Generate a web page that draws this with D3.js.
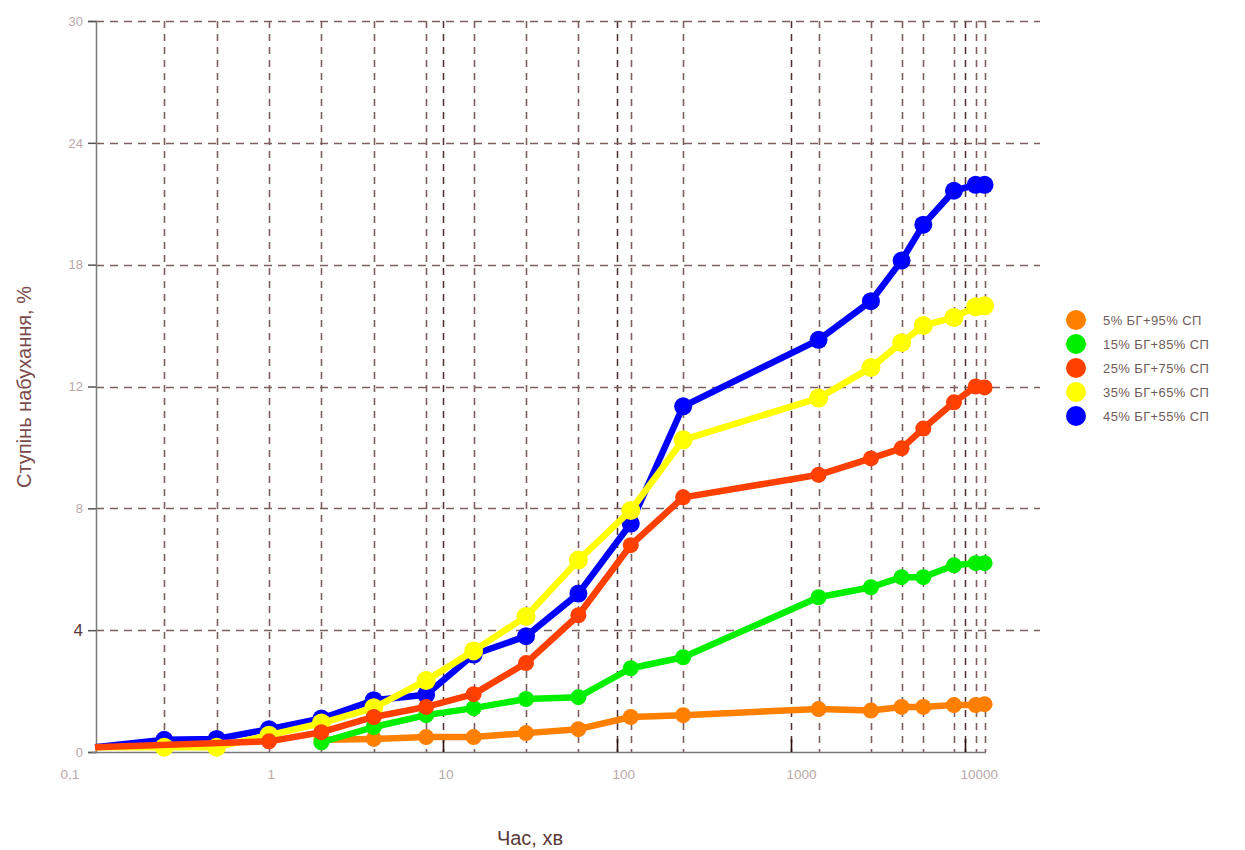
<!DOCTYPE html>
<html>
<head>
<meta charset="utf-8">
<script src="https://cdn.jsdelivr.net/npm/d3@7"></script>
<style>
  body { margin: 0; background: #fff; }
  svg { font-family: "Liberation Sans", Arial, sans-serif; }
</style>
</head>
<body>
<div id="chart"></div>
<script>
// time, minutes
var times = [0.1, 0.25, 0.5, 1, 2, 4, 8, 15, 30, 60, 120, 240, 1440, 2880, 4320, 5760, 8640, 11520, 12960];

var blue = [0.16, 0.4, 0.43, 0.75, 1.1, 1.7, 1.88, 3.2, 3.8, 5.2, 7.5, 11.35, 14.3, 16.2, 18.2, 19.97, 21.64, 21.93, 21.93];
var yellow = [0.16, 0.16, 0.16, 0.55, 0.95, 1.45, 2.35, 3.32, 4.45, 6.3, 7.93, 10.25, 11.62, 12.93, 14.16, 15.0, 15.4, 15.93, 15.98];
var red = [0.16, null, null, 0.35, 0.65, 1.15, 1.48, 1.9, 2.92, 4.49, 6.79, 8.36, 9.1, 9.64, 9.97, 10.62, 11.48, 12.0, 11.97];
var green = [null, null, null, null, 0.32, 0.82, 1.21, 1.44, 1.74, 1.8, 2.75, 3.11, 5.08, 5.41, 5.74, 5.74, 6.13, 6.2, 6.2];
var orange = [null, null, null, null, 0.4, 0.43, 0.49, 0.49, 0.62, 0.75, 1.15, 1.21, 1.41, 1.36, 1.48, 1.48, 1.54, 1.54, 1.57];

var seriesNames = ['5% БГ+95% СП', '15% БГ+85% СП', '25% БГ+75% СП', '35% БГ+65% СП', '45% БГ+55% СП'];
var seriesColors = ['#ff8000', '#00f000', '#ff4000', '#ffff00', '#0000ff'];
var seriesValues = [orange, green, red, yellow, blue];
var drawOrder = [4, 3, 0, 1, 2];

var yTicks = [0, 4, 8, 12, 18, 24, 30];
var xTicks = [0.1, 1, 10, 100, 1000, 10000];
var xTickLabels = ['0,1', '1', '10', '100', '1000', '10000'];
var decades = [10, 100, 1000, 10000];

var width = 1245, height = 850;
var plotLeft = 96, plotTop = 21, plotBottom = 752, plotRight = 986, gridRight = 1040;

var svg = d3.select('#chart').append('svg')
    .attr('width', width)
    .attr('height', height);

var x = d3.scaleLog()
    .domain([0.1, 10000])
    .range([95, 965]);

var ystep = (plotBottom - plotTop) / (yTicks.length - 1);
var y = d3.scaleLinear()
    .domain(yTicks)
    .range(yTicks.map(function (d, i) { return plotBottom - i * ystep; }));

var gridColor = '#7d5f5f';

// vertical grid at measurement times
svg.append('g').selectAll('line')
    .data(times.slice(1))
    .enter().append('line')
    .attr('x1', function (d) { return Math.round(x(d)) + 0.5; })
    .attr('x2', function (d) { return Math.round(x(d)) + 0.5; })
    .attr('y1', plotTop)
    .attr('y2', plotBottom)
    .attr('stroke', gridColor)
    .attr('stroke-width', 1.6)
    .attr('stroke-dasharray', '7,6');

// darker decade lines
svg.append('g').selectAll('line')
    .data(decades)
    .enter().append('line')
    .attr('x1', function (d) { return Math.round(x(d)) + 0.5; })
    .attr('x2', function (d) { return Math.round(x(d)) + 0.5; })
    .attr('y1', plotTop)
    .attr('y2', plotBottom)
    .attr('stroke', '#4e2e2e')
    .attr('stroke-width', 1.5)
    .attr('stroke-dasharray', '7,6');

// horizontal grid
svg.append('g').selectAll('line')
    .data(yTicks.slice(1))
    .enter().append('line')
    .attr('x1', plotLeft)
    .attr('x2', gridRight)
    .attr('y1', function (d) { return Math.round(y(d)) + 0.5; })
    .attr('y2', function (d) { return Math.round(y(d)) + 0.5; })
    .attr('stroke', gridColor)
    .attr('stroke-width', 1.6)
    .attr('stroke-dasharray', '8,6');

// y axis
var yAxis = d3.axisLeft(y)
    .tickValues(yTicks)
    .tickSize(8)
    .tickPadding(5)
    .tickFormat(d3.format('d'));
var gy = svg.append('g')
    .attr('transform', 'translate(' + plotLeft + ',0)')
    .call(yAxis);
gy.select('.domain').attr('stroke', '#7a7a7a').attr('stroke-width', 1.5);
gy.selectAll('.tick line').attr('stroke', '#555').attr('stroke-width', 1.5);
gy.selectAll('.tick text')
    .attr('fill', '#b8a8a8')
    .attr('font-size', 13);
gy.selectAll('.tick text')
    .filter(function (d) { return d === 4; })
    .attr('fill', '#5a3838')
    .attr('font-size', 17);

// x axis
var xAxis = d3.axisBottom(x)
    .tickValues(xTicks)
    .tickSize(0)
    .tickPadding(17)
    .tickFormat(function (d, i) { return xTickLabels[i]; });
var gx = svg.append('g')
    .attr('transform', 'translate(0,' + plotBottom + ')')
    .call(xAxis);
gx.select('.domain').remove();
gx.append('line')
    .attr('x1', 92).attr('x2', plotRight)
    .attr('y1', 0.5).attr('y2', 0.5)
    .attr('stroke', '#7a7a7a')
    .attr('stroke-width', 1.5);
gx.selectAll('.tick text')
    .attr('fill', '#b8a8a8')
    .attr('font-size', 13.5)
    .attr('text-anchor', 'start')
    .attr('dx', function (d) { return d === 0.1 ? -35 : (d === 1 ? -2 : -5); });

// decade tick marks on the axis
svg.append('g').selectAll('line')
    .data(decades)
    .enter().append('line')
    .attr('x1', function (d) { return Math.round(x(d)) + 0.5; })
    .attr('x2', function (d) { return Math.round(x(d)) + 0.5; })
    .attr('y1', plotBottom - 13)
    .attr('y2', plotBottom)
    .attr('stroke', '#2a1010')
    .attr('stroke-width', 1.6);

// series
var line = d3.line()
    .x(function (d) { return x(d.t); })
    .y(function (d) { return y(d.v); });

drawOrder.forEach(function (k) {
    var pts = times.map(function (t, i) { return { t: t, v: seriesValues[k][i], i: i }; })
        .filter(function (d) { return d.v !== null; });
    var g = svg.append('g');
    g.append('path')
        .datum(pts)
        .attr('d', line)
        .attr('fill', 'none')
        .attr('stroke', seriesColors[k])
        .attr('stroke-width', 6.5)
        .attr('stroke-linejoin', 'round');
    g.selectAll('circle')
        .data(pts.filter(function (d) { return d.i > 0; }))
        .enter().append('circle')
        .attr('cx', function (d) { return x(d.t); })
        .attr('cy', function (d) { return y(d.v); })
        .attr('r', k === 4 ? 9 : (k === 3 ? 9.5 : 8))
        .attr('fill', seriesColors[k]);
});

// legend
var legend = svg.append('g')
    .attr('transform', 'translate(1076,320)');
var items = legend.selectAll('g')
    .data(seriesNames)
    .enter().append('g')
    .attr('transform', function (d, i) { return 'translate(0,' + (i * 24) + ')'; });
items.append('circle')
    .attr('r', 10)
    .attr('fill', function (d, i) { return seriesColors[i]; });
items.append('text')
    .attr('x', 27)
    .attr('y', 4.5)
    .attr('font-size', 13)
    .attr('letter-spacing', 0.4)
    .attr('fill', '#6e5c5c')
    .text(function (d) { return d; });

// axis titles
svg.append('text')
    .attr('transform', 'translate(31,387) rotate(-90)')
    .attr('text-anchor', 'middle')
    .attr('font-size', 20)
    .attr('fill', '#7a4a4a')
    .text('Ступінь набухання, %');

svg.append('text')
    .attr('x', 530)
    .attr('y', 845)
    .attr('text-anchor', 'middle')
    .attr('font-size', 20)
    .attr('fill', '#5a3a3a')
    .text('Час, хв');
</script>
</body>
</html>
